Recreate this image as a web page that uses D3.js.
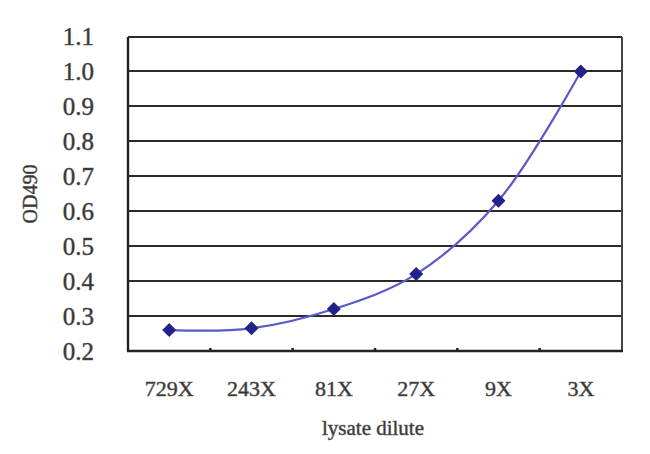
<!DOCTYPE html>
<html><head><meta charset="utf-8">
<script src="https://cdn.jsdelivr.net/npm/d3@7"></script>
<style>
html,body{margin:0;padding:0;background:#fff;}
svg{display:block;}
text{font-family:"Liberation Serif","Times New Roman",serif;fill:#333;stroke:#555;stroke-width:0.5;}
</style></head>
<body>
<svg id="chart" width="650" height="454"></svg>
<script>
const categories = ["729X","243X","81X","27X","9X","3X"];
const values = [0.26, 0.265, 0.32, 0.42, 0.63, 1.0];
const yTicks = [0.2,0.3,0.4,0.5,0.6,0.7,0.8,0.9,1.0,1.1];
const xTitle = "lysate dilute";
const yTitle = "OD490";

const svg = d3.select("#chart");
const m = {left:128, right:622, top:36.5, bottom:351};
const x = d3.scaleBand().domain(categories).range([m.left, m.right]);
const y = d3.scaleLinear().domain([0.2,1.1]).range([m.bottom, m.top]);

// gridlines
svg.append("g").selectAll("line").data(yTicks).join("line")
  .attr("x1", m.left).attr("x2", m.right)
  .attr("y1", d=>Math.round(y(d))).attr("y2", d=>Math.round(y(d)))
  .attr("stroke","#2a2a2a").attr("stroke-width",2);

// frame verticals
svg.append("line").attr("x1",m.left).attr("x2",m.left).attr("y1",Math.round(m.top)).attr("y2",m.bottom)
  .attr("stroke","#222").attr("stroke-width",2.4);
svg.append("line").attr("x1",m.right).attr("x2",m.right).attr("y1",Math.round(m.top)).attr("y2",m.bottom)
  .attr("stroke","#444").attr("stroke-width",2);
svg.append("line").attr("x1",m.left-1).attr("x2",m.right+1).attr("y1",m.bottom).attr("y2",m.bottom)
  .attr("stroke","#222").attr("stroke-width",2.6);

// x tick marks at band boundaries
svg.append("g").selectAll("line").data(categories.slice(1)).join("line")
  .attr("x1", d=>x(d)).attr("x2", d=>x(d))
  .attr("y1", m.bottom-3).attr("y2", m.bottom)
  .attr("stroke","#222").attr("stroke-width",2.5);

// y tick labels
svg.append("g").selectAll("text").data(yTicks).join("text")
  .attr("x", 94).attr("y", d=>y(d))
  .attr("dy","0.35em").attr("text-anchor","end")
  .attr("font-size", 25)
  .text(d=>d.toFixed(1));

// x tick labels
svg.append("g").selectAll("text").data(categories).join("text")
  .attr("x", d=>x(d)+x.bandwidth()/2).attr("y", 388)
  .attr("dy","0.35em").attr("text-anchor","middle")
  .attr("font-size", 22)
  .text(d=>d);

// axis titles
svg.append("text").attr("x", 373).attr("y", 428).attr("dy","0.35em")
  .attr("text-anchor","middle").attr("font-size",21).text(xTitle);
svg.append("text").attr("transform","translate(30,194) rotate(-90)")
  .attr("dy","0.35em").attr("text-anchor","middle").attr("font-size",20).text(yTitle);

// line
const pts = categories.map((c,i)=>({c, v:values[i]}));
const line = d3.line().x(d=>x(d.c)+x.bandwidth()/2).y(d=>y(d.v))
  .curve(d3.curveCatmullRom.alpha(0.5));
svg.append("path").datum(pts).attr("d", line)
  .attr("fill","none").attr("stroke","#5a5ac6").attr("stroke-width",2.2);

// markers
svg.append("g").selectAll("path").data(pts).join("path")
  .attr("transform", d=>`translate(${x(d.c)+x.bandwidth()/2},${y(d.v)})`)
  .attr("d","M0,-7L7,0L0,7L-7,0Z")
  .attr("fill","#22228a");
</script>
</body></html>
